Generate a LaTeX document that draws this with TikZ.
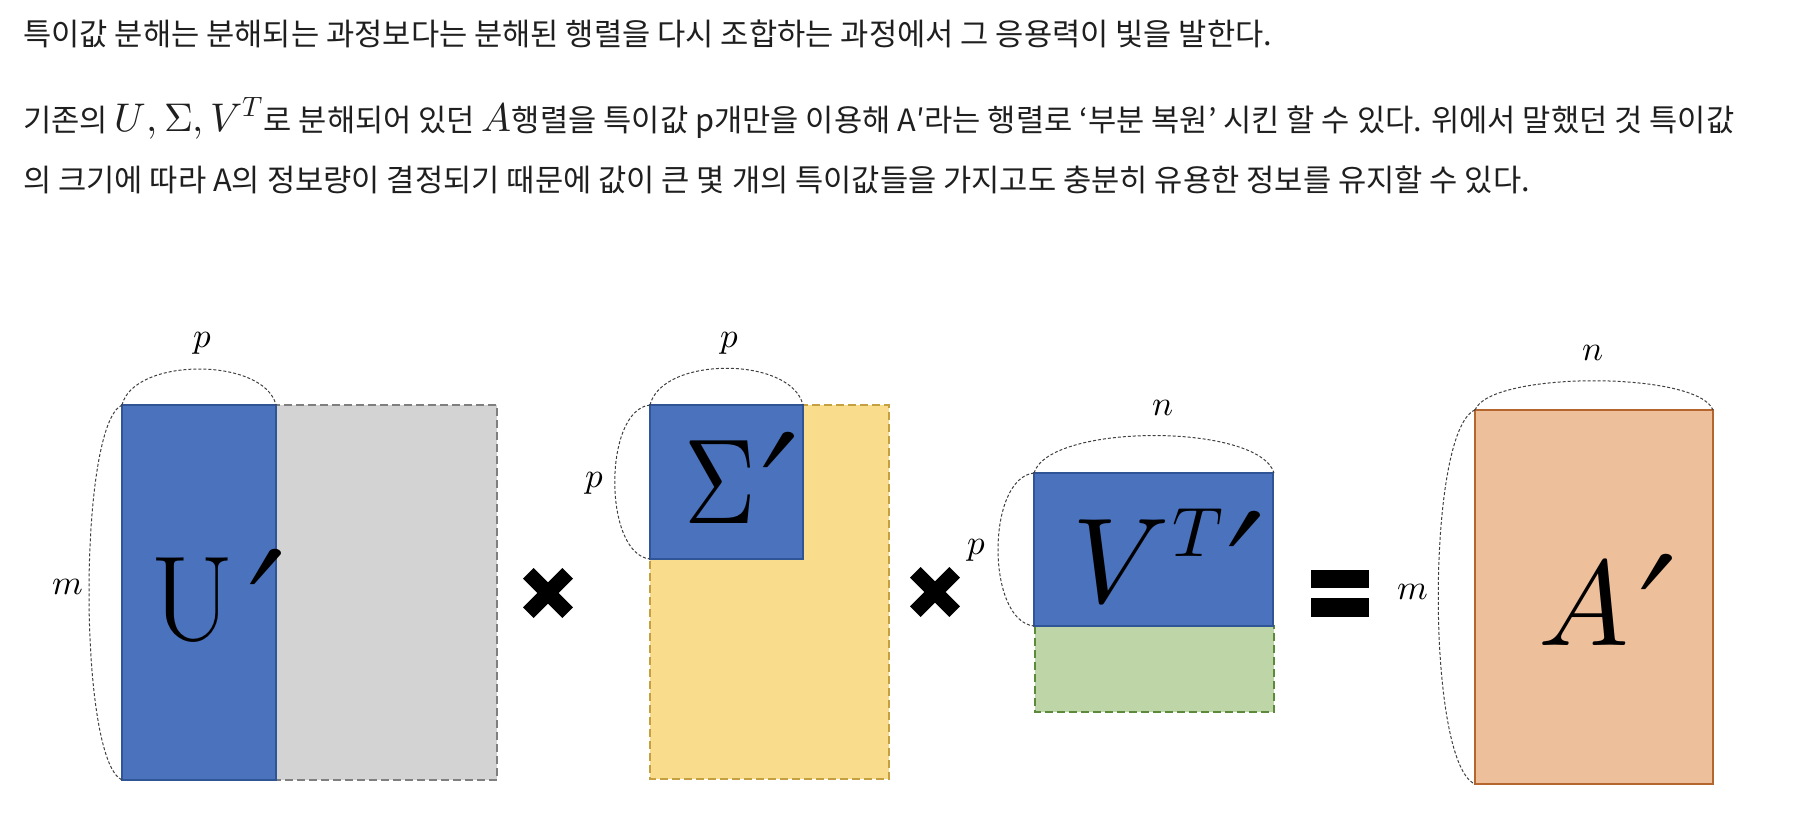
\documentclass[tikz,border=0pt]{standalone}
\usepackage{fontspec}
\usepackage{unicode-math}
\setmathfont{Latin Modern Math}
\usetikzlibrary{calc}
\newfontfamily\kr{Noto Sans CJK KR}
\definecolor{txt}{HTML}{1F1F1F}
\definecolor{mblue}{HTML}{4A72BD}
\definecolor{mblueb}{HTML}{2F5597}
\definecolor{mgray}{HTML}{D3D3D3}
\definecolor{mgrayb}{HTML}{7F7F7F}
\definecolor{myel}{HTML}{F9DD8D}
\definecolor{myelb}{HTML}{C4A040}
\definecolor{mgrn}{HTML}{BDD5A7}
\definecolor{mgrnb}{HTML}{5A8A3A}
\definecolor{mpch}{HTML}{EEBF9B}
\definecolor{mpchb}{HTML}{B5652E}
\definecolor{arcc}{HTML}{404040}
\newcommand\bprime{\raisebox{8pt}{\scalebox{1.35}[0.92]{$\prime$}}}
\newcommand\mathbig[1]{{\fontsize{40}{40}\selectfont$#1$}}
\tikzset{
  para/.style={anchor=base west, inner sep=0pt, text=txt, font=\kr\fontsize{30.7}{34}\selectfont},
  solidbox/.style={fill=mblue, draw=mblueb, line width=1.5pt},
  graybox/.style={fill=mgray, draw=mgrayb, line width=1.8pt, dash pattern=on 8pt off 4pt},
  yelbox/.style={fill=myel, draw=myelb, line width=1.8pt, dash pattern=on 8pt off 4pt},
  grnbox/.style={fill=mgrn, draw=mgrnb, line width=1.8pt, dash pattern=on 8pt off 4pt},
  pchbox/.style={fill=mpch, draw=mpchb, line width=2pt},
  brace/.style={draw=arcc, line width=1pt, dash pattern=on 3pt off 2pt},
  dimlbl/.style={inner sep=0pt, font=\fontsize{35}{35}\selectfont},
  biglbl/.style={inner sep=0pt, anchor=base west, font=\fontsize{121}{121}\selectfont},
  timesx/.style={line width=15pt, black},
}
\begin{document}
\begin{tikzpicture}[x=1pt,y=-1pt]
\useasboundingbox (0,0) rectangle (1800,820);
% paragraph
\node[para] (l1) at (23,45) {특이값 분해는 분해되는 과정보다는 분해된 행렬을 다시 조합하는 과정에서 그 응용력이 빛을 발한다.};
\node[para] (l2) at (23,131) {기존의 \mathbig{U,\Sigma,V^{T}}로 분해되어 있던 \mathbig{A}행렬을 특이값 p개만을 이용해 A′라는 행렬로 ‘부분 복원’ 시킨 할 수 있다. 위에서 말했던 것 특이값};
\node[para] (l3) at (23,191) {의 크기에 따라 A의 정보량이 결정되기 때문에 값이 큰 몇 개의 특이값들을 가지고도 충분히 유용한 정보를 유지할 수 있다.};

% U' block
\path[graybox] (276,405) rectangle (497,780);
\path[solidbox] (122,405) rectangle (276,780);
\coordinate (utl) at (122,405);
\coordinate (utr) at (276,405);
\coordinate (ubl) at (122,780);
\node[biglbl] (ulab) at (150,640) {$\mathrm{U}$\kern6pt\bprime};
\path[brace] (utl) .. controls +(12,-48) and +(-12,-48) .. (utr);
\path[brace] (utl) .. controls +(-44,20) and +(-44,-20) .. (ubl);
\node[dimlbl] (up) at (203,343) {$p$};
\node[dimlbl] (um) at (68,587) {$m$};

% times 1
\coordinate (x1) at (548,593);
\draw[timesx] ($(x1)+(-19.7,-19.7)$) -- ($(x1)+(19.7,19.7)$);
\draw[timesx] ($(x1)+(-19.7,19.7)$) -- ($(x1)+(19.7,-19.7)$);

% Sigma block
\path[yelbox] (650,405) rectangle (889,779);
\path[solidbox] (650,405) rectangle (803,559);
\coordinate (stl) at (650,405);
\coordinate (str) at (803,405);
\coordinate (sbl) at (650,559);
\node[biglbl] (slab) at (684,523) {\scalebox{0.82}[1]{$\Sigma$}\kern-2pt\bprime};
\path[brace] (stl) .. controls +(12,-49) and +(-12,-49) .. (str);
\path[brace] (stl) .. controls +(-47,5) and +(-47,-5) .. (sbl);
\node[dimlbl] (sp1) at (730,343) {$p$};
\node[dimlbl] (sp2) at (595,483) {$p$};

% times 2
\coordinate (x2) at (935,592);
\draw[timesx] ($(x2)+(-19.7,-19.7)$) -- ($(x2)+(19.7,19.7)$);
\draw[timesx] ($(x2)+(-19.7,19.7)$) -- ($(x2)+(19.7,-19.7)$);

% V^T block
\path[grnbox] (1035,626) rectangle (1274,712);
\path[solidbox] (1034,473) rectangle (1273,626);
\coordinate (vtl) at (1034,473);
\coordinate (vtr) at (1274,473);
\coordinate (vbl) at (1034,626);
\node[biglbl] (vlab) at (1072,602) {$V$\kern4pt\raisebox{46pt}{\fontsize{70}{70}\selectfont$T$}\kern-4pt\bprime};
\path[brace] (vtl) .. controls +(15,-50) and +(-15,-50) .. (vtr);
\path[brace] (vtl) .. controls +(-48,5) and +(-48,-5) .. (vbl);
\node[dimlbl] (vn) at (1163,408) {$n$};
\node[dimlbl] (vp) at (977,550) {$p$};

% equals
\fill[black] (1311,570) rectangle (1369,588);
\fill[black] (1311,598) rectangle (1369,617);

% A' block
\path[pchbox] (1475,410) rectangle (1713,784);
\coordinate (atl) at (1475,410);
\coordinate (atr) at (1713,410);
\coordinate (abl) at (1475,784);
\node[biglbl] (alab) at (1538,645) {$A$\kern3pt\bprime};
\path[brace] (atl) .. controls +(15,-39) and +(-15,-39) .. (atr);
\path[brace] (atl) .. controls +(-49,20) and +(-49,-20) .. (abl);
\node[dimlbl] (an) at (1593,353) {$n$};
\node[dimlbl] (am) at (1413,592) {$m$};
\end{tikzpicture}
\end{document}
